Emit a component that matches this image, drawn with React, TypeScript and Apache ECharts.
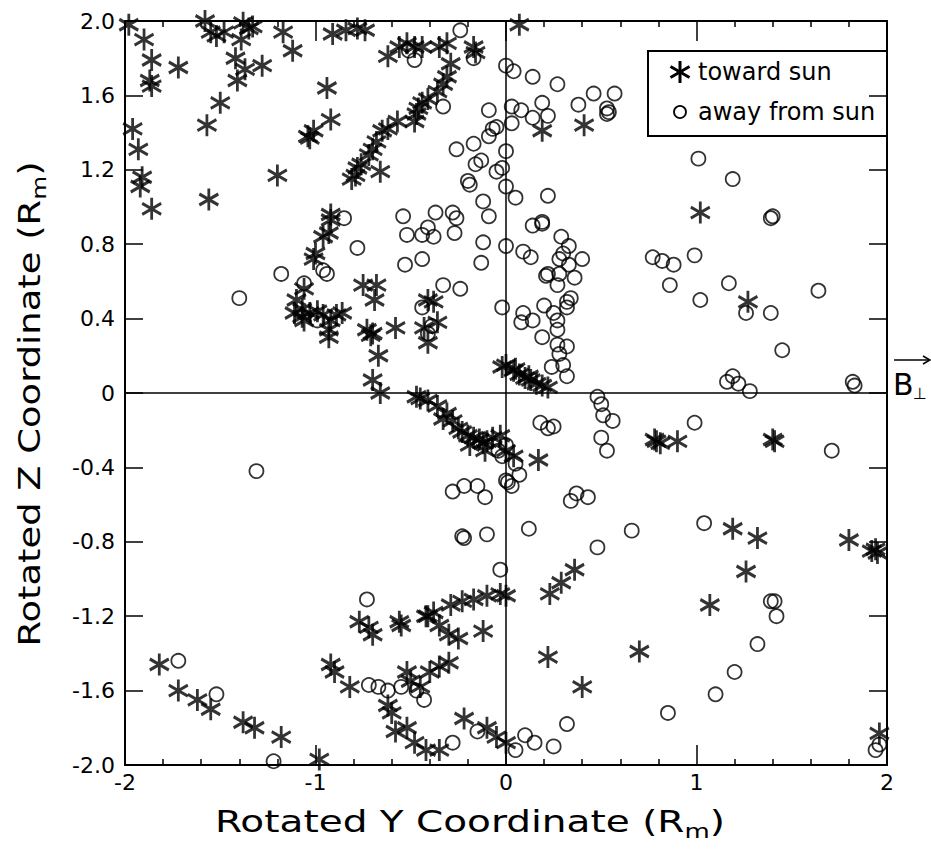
import React, { useEffect, useRef } from 'react';
import * as echarts from 'echarts';

// "toward sun" points (Rotated Y, Rotated Z) in Rm
const towardSun: number[][] = [
  [-1.98, 1.98], [-1.90, 1.90], [-1.86, 1.79], [-1.87, 1.68], [-1.86, 1.65], [-1.72, 1.75],
  [-1.96, 1.42], [-1.93, 1.31], [-1.91, 1.16], [-1.92, 1.11], [-1.86, 0.99], [-1.56, 1.04],
  [-1.57, 1.44], [-1.50, 1.56], [-1.20, 1.17], [-1.04, 1.38],
  [-1.58, 2.0], [-1.55, 1.94], [-1.52, 1.92], [-1.48, 1.94], [-1.38, 1.99], [-1.35, 1.96],
  [-1.33, 1.97], [-1.39, 1.90], [-1.42, 1.80], [-1.37, 1.74], [-1.28, 1.76], [-1.41, 1.68],
  [-1.17, 1.94], [-1.12, 1.84],
  [-0.91, 1.93], [-0.84, 1.95], [-0.78, 1.96], [-0.74, 1.95], [-0.94, 1.64], [-0.92, 1.47],
  [-1.01, 1.41], [-1.03, 1.37], [-0.62, 1.81], [-0.56, 1.86], [-0.52, 1.88], [-0.48, 1.86],
  [-0.44, 1.86], [-0.35, 1.86], [-0.31, 1.88], [-0.17, 1.86], [-0.16, 1.83], [-0.29, 1.77],
  [-0.31, 1.70], [-0.33, 1.66], [-0.36, 1.62], [-0.41, 1.58], [-0.44, 1.56], [-0.46, 1.53],
  [-0.47, 1.50], [-0.48, 1.46], [-0.57, 1.46], [-0.62, 1.42], [-0.65, 1.41], [-0.68, 1.35],
  [-0.70, 1.31], [-0.72, 1.28], [-0.76, 1.23], [-0.78, 1.21], [-0.79, 1.17], [-0.81, 1.15],
  [-0.66, 1.19], [-0.92, 0.96],
  [0.07, 1.98], [0.19, 1.41], [0.41, 1.44], [1.02, 0.97],
  [-0.92, 0.93], [-0.93, 0.86], [-0.96, 0.84], [-1.0, 0.75], [-1.01, 0.72], [-1.06, 0.56],
  [-1.07, 0.45], [-1.03, 0.43], [-0.99, 0.44], [-0.96, 0.42], [-0.92, 0.39], [-0.89, 0.42],
  [-0.86, 0.43], [-0.93, 0.34], [-0.93, 0.30], [-1.06, 0.39], [-0.75, 0.58], [-0.68, 0.58],
  [-0.69, 0.50], [-0.73, 0.34], [-0.70, 0.32], [-0.71, 0.31], [-0.58, 0.35], [-0.67, 0.20],
  [-0.70, 0.07], [-0.66, 0.0], [-0.41, 0.50], [-0.38, 0.49], [-0.36, 0.38], [-0.43, 0.35],
  [-0.41, 0.27], [-0.02, 0.14],
  [-1.10, 0.50], [-1.11, 0.43], [-1.07, 0.41],
  [-0.47, -0.02], [-0.45, -0.03], [-0.41, -0.04], [-0.36, -0.07], [-0.31, -0.11], [-0.28, -0.15],
  [-0.33, -0.14], [-0.23, -0.21], [-0.17, -0.24], [-0.14, -0.25], [-0.10, -0.26], [-0.07, -0.24],
  [-0.03, -0.23], [-0.19, -0.28], [-0.11, -0.31], [-0.25, -0.19], [-0.20, -0.23], [-0.12, -0.27],
  [0.0, 0.15], [0.04, 0.12], [0.07, 0.10], [0.10, 0.08], [0.13, 0.07], [0.16, 0.05],
  [0.19, 0.04], [0.22, 0.03], [0.05, 0.13], [0.12, 0.09],
  [1.27, 0.49],
  [-0.03, -1.08], [-0.10, -1.09], [-0.17, -1.11], [-0.23, -1.12], [-0.29, -1.14], [-0.38, -1.18],
  [-0.41, -1.20], [-0.56, -1.23], [-0.77, -1.23],
  [0.0, -0.31], [0.04, -0.34], [0.17, -0.36], [0.79, -0.26], [0.81, -0.27], [0.90, -0.26],
  [0.78, -0.25], [0.36, -0.95], [0.29, -1.02], [0.23, -1.08], [0.0, -1.09], [1.07, -1.14],
  [1.41, -0.26], [1.40, -0.25], [1.80, -0.79], [1.92, -0.85], [1.95, -0.86], [1.94, -0.84],
  [1.19, -0.73], [1.32, -0.78], [1.26, -0.96],
  [-1.82, -1.46], [-1.72, -1.60], [-1.62, -1.65], [-1.55, -1.70], [-1.38, -1.77], [-1.32, -1.80],
  [-1.18, -1.85], [-0.98, -1.97],
  [-0.92, -1.46], [-0.90, -1.50], [-0.82, -1.58], [-0.72, -1.26], [-0.70, -1.30], [-0.55, -1.25],
  [-0.42, -1.20], [-0.35, -1.25], [-0.30, -1.30], [-0.25, -1.32], [-0.12, -1.28], [-0.52, -1.50],
  [-0.50, -1.55], [-0.45, -1.58], [-0.40, -1.50], [-0.35, -1.47], [-0.30, -1.45], [-0.62, -1.68],
  [-0.60, -1.72], [-0.58, -1.82], [-0.52, -1.80], [-0.48, -1.88], [-0.42, -1.92], [-0.35, -1.92],
  [-0.22, -1.75], [-0.10, -1.80], [-0.05, -1.85], [0.0, -1.88], [0.22, -1.42], [0.40, -1.58],
  [0.70, -1.39], [1.96, -1.83],
];

// "away from sun" points
const awayFromSun: number[][] = [
  [-0.24, 1.95], [0.0, 1.76], [0.04, 1.73], [0.14, 1.70], [0.27, 1.66], [0.03, 1.54],
  [0.08, 1.52], [0.19, 1.56], [0.14, 1.48], [0.22, 1.49], [0.03, 1.45], [0.38, 1.55],
  [0.46, 1.61], [0.57, 1.61], [0.53, 1.53], [0.54, 1.51], [0.53, 1.50], [0.0, 1.30],
  [-0.02, 1.21], [0.0, 1.11], [0.05, 1.05], [0.22, 1.06], [0.19, 0.92], [1.01, 1.26],
  [-0.51, 1.84], [-0.48, 1.79], [-0.17, 1.80], [-0.33, 1.54], [-0.09, 1.52], [-0.07, 1.42],
  [-0.05, 1.43], [-0.26, 1.31], [-0.17, 1.34], [-0.09, 1.38], [-0.16, 1.23], [-0.13, 1.25],
  [-0.05, 1.19], [-0.20, 1.14], [-0.19, 1.12], [-0.12, 1.03],
  [-0.85, 0.94], [-0.54, 0.95], [-0.37, 0.97], [-0.28, 0.97], [-0.26, 0.94], [-0.09, 0.95],
  [-0.52, 0.85], [-0.44, 0.85], [-0.38, 0.84], [-0.41, 0.89], [-0.27, 0.86], [-0.12, 0.81],
  [0.0, 0.79], [-0.78, 0.78], [-0.53, 0.69], [-0.44, 0.72], [-0.13, 0.70], [-0.96, 0.66],
  [-0.94, 0.64], [-1.06, 0.59], [-0.33, 0.58], [-0.24, 0.56], [-0.02, 0.46], [-0.44, 0.46],
  [-0.39, 0.36], [-0.41, 0.32], [-0.99, 0.39],
  [0.14, 0.90], [0.19, 0.91], [0.09, 0.76], [0.13, 0.73], [0.29, 0.84], [0.33, 0.79],
  [0.30, 0.75], [0.28, 0.72], [0.40, 0.72], [0.33, 0.69], [0.22, 0.64], [0.21, 0.63],
  [0.28, 0.64], [0.36, 0.62], [0.27, 0.58], [0.34, 0.51], [0.32, 0.49], [0.32, 0.46],
  [0.20, 0.47], [0.25, 0.43], [0.27, 0.39], [0.27, 0.34], [0.09, 0.43], [0.08, 0.38],
  [0.14, 0.39], [0.19, 0.30], [0.27, 0.26], [0.32, 0.25], [0.28, 0.21], [0.30, 0.15],
  [0.32, 0.09], [0.24, 0.14], [0.77, 0.73], [0.82, 0.71], [0.88, 0.69], [0.86, 0.58],
  [0.99, 0.74], [1.02, 0.50],
  [0.48, -0.02], [0.50, -0.06], [0.51, -0.12], [0.56, -0.15], [0.50, -0.24], [0.53, -0.31],
  [0.18, -0.16], [0.22, -0.19], [0.25, -0.18], [0.99, -0.16],
  [1.40, 0.95], [1.39, 0.94], [1.17, 0.59], [1.26, 0.43], [1.39, 0.43], [1.64, 0.55],
  [1.45, 0.23], [1.16, 0.06], [1.19, 0.09], [1.22, 0.05], [1.28, 0.01], [1.82, 0.06],
  [1.83, 0.04], [1.19, 1.15],
  [-1.31, -0.42], [-1.18, 0.64], [-1.40, 0.51],
  [-0.04, -0.31], [-0.02, -0.34], [0.0, -0.47], [-0.28, -0.53], [-0.22, -0.50], [-0.15, -0.50],
  [-0.11, -0.56], [-0.23, -0.77], [-0.22, -0.78], [-0.10, -0.76], [-0.03, -0.95], [-0.73, -1.11],
  [0.05, -0.38], [0.07, -0.44], [0.01, -0.48], [0.03, -0.50], [0.0, -0.28], [0.37, -0.54],
  [0.34, -0.58], [0.43, -0.56], [0.12, -0.73], [0.66, -0.74], [0.48, -0.83], [1.04, -0.70],
  [1.71, -0.31], [1.39, -1.12], [1.41, -1.12], [1.42, -1.20],
  [-1.72, -1.44], [-1.52, -1.62], [-1.22, -1.98],
  [-0.72, -1.57], [-0.67, -1.58], [-0.62, -1.60], [-0.55, -1.58], [-0.47, -1.60], [-0.43, -1.65],
  [-0.28, -1.88], [-0.15, -1.82], [0.05, -1.92], [0.10, -1.84], [0.15, -1.88], [0.25, -1.90],
  [0.32, -1.78], [0.85, -1.72], [1.10, -1.62], [1.20, -1.50], [1.32, -1.35], [1.94, -1.92],
  [1.96, -1.89],
];

const seriesNames = ['toward sun', 'away from sun'];
const xTitleParts = ['Rotated Y Coordinate (R', 'm', ')'];
const yTitleParts = ['Rotated Z Coordinate (R', 'm', ')'];

const STAR_PATH = 'path://M0,-10L0,10M-8.66,-5L8.66,5M-8.66,5L8.66,-5';
const FONT = 'DejaVu Sans';

export default function App() {
  const ref = useRef<HTMLDivElement>(null);

  useEffect(() => {
    if (!ref.current) return;
    const chart = echarts.init(ref.current, undefined, { renderer: 'svg' });

    const axisCommon = {
      type: 'value' as const,
      min: -2,
      max: 2,
      splitLine: { show: false },
      axisLine: { show: true, onZero: false, lineStyle: { color: '#000', width: 2 } },
    };

    const tickLabelStyle = { fontFamily: FONT, fontSize: 22, color: '#000' };

    const titleRich = {
      a: { fontFamily: FONT, fontSize: 30, fill: '#000', lineHeight: 38, verticalAlign: 'middle' },
      s: { fontFamily: FONT, fontSize: 20, fill: '#000', lineHeight: 38, verticalAlign: 'bottom', padding: [12, 0, 0, 0] },
    };

    chart.setOption({
      animation: false,
      backgroundColor: '#fff',
      grid: { left: 125, right: 44, top: 21, bottom: 88, containLabel: false },
      xAxis: [
        {
          ...axisCommon,
          position: 'bottom',
          interval: 1,
          axisTick: { show: true, inside: true, length: 20, lineStyle: { color: '#000', width: 1.5 } },
          minorTick: { show: true, splitNumber: 5, length: 6, lineStyle: { color: '#000', width: 1.5 } },
          axisLabel: { ...tickLabelStyle, margin: 6, formatter: (v: number) => String(Math.round(v)) },
        },
        {
          ...axisCommon,
          position: 'top',
          interval: 1,
          axisTick: { show: true, inside: true, length: 20, lineStyle: { color: '#000', width: 1.5 } },
          minorTick: { show: true, splitNumber: 5, length: 6, lineStyle: { color: '#000', width: 1.5 } },
          axisLabel: { show: false },
        },
      ],
      yAxis: [
        {
          ...axisCommon,
          position: 'left',
          interval: 0.4,
          axisTick: { show: true, inside: true, length: 18, lineStyle: { color: '#000', width: 1.5 } },
          axisLabel: {
            ...tickLabelStyle,
            margin: 10,
            formatter: (v: number) => (Math.abs(v) < 1e-9 ? '0' : v.toFixed(1)),
          },
        },
        {
          ...axisCommon,
          position: 'right',
          interval: 0.4,
          axisTick: { show: true, inside: true, length: 18, lineStyle: { color: '#000', width: 1.5 } },
          axisLabel: { show: false },
        },
      ],
      series: [
        {
          name: seriesNames[0],
          type: 'scatter',
          xAxisIndex: 0,
          yAxisIndex: 0,
          data: towardSun,
          symbol: STAR_PATH,
          symbolSize: [19, 22],
          itemStyle: { color: '#000', borderColor: '#000', borderWidth: 3 },
          z: 3,
        },
        {
          name: seriesNames[1],
          type: 'scatter',
          xAxisIndex: 0,
          yAxisIndex: 0,
          data: awayFromSun,
          symbol: 'circle',
          symbolSize: 14,
          itemStyle: { color: 'rgba(0,0,0,0)', borderColor: '#000', borderWidth: 1.8 },
          z: 3,
          markLine: {
            silent: true,
            symbol: 'none',
            label: { show: false },
            lineStyle: { color: '#000', width: 1.5, type: 'solid' },
            data: [{ xAxis: 0 }, { yAxis: 0 }],
          },
        },
      ],
      graphic: [
        // legend box
        {
          type: 'rect',
          shape: { x: 648, y: 51, width: 239, height: 85 },
          style: { fill: 'none', stroke: '#000', lineWidth: 2 },
          z: 10,
        },
        {
          type: 'group',
          x: 680,
          y: 72,
          z: 10,
          children: [
            { type: 'line', shape: { x1: 0, y1: -11, x2: 0, y2: 11 }, style: { stroke: '#000', lineWidth: 3 } },
            { type: 'line', shape: { x1: -9.5, y1: -5.5, x2: 9.5, y2: 5.5 }, style: { stroke: '#000', lineWidth: 3 } },
            { type: 'line', shape: { x1: -9.5, y1: 5.5, x2: 9.5, y2: -5.5 }, style: { stroke: '#000', lineWidth: 3 } },
          ],
        },
        {
          type: 'circle',
          shape: { cx: 680, cy: 112, r: 6 },
          style: { fill: 'none', stroke: '#000', lineWidth: 1.8 },
          z: 10,
        },
        {
          type: 'text',
          x: 698,
          y: 72,
          z: 10,
          style: { text: seriesNames[0], fontFamily: FONT, fontSize: 24, fill: '#000', verticalAlign: 'middle' },
        },
        {
          type: 'text',
          x: 698,
          y: 112,
          z: 10,
          style: { text: seriesNames[1], fontFamily: FONT, fontSize: 24, fill: '#000', verticalAlign: 'middle' },
        },
        // axis titles
        {
          type: 'text',
          x: 470,
          y: 822,
          scaleX: 1.3,
          z: 10,
          style: {
            text: `{a|${xTitleParts[0]}}{s|${xTitleParts[1]}}{a|${xTitleParts[2]}}`,
            align: 'center',
            verticalAlign: 'middle',
            rich: titleRich,
          },
        },
        {
          type: 'text',
          x: 30,
          y: 404,
          rotation: Math.PI / 2,
          scaleX: 1.23,
          z: 10,
          style: {
            text: `{a|${yTitleParts[0]}}{s|${yTitleParts[1]}}{a|${yTitleParts[2]}}`,
            align: 'center',
            verticalAlign: 'middle',
            rich: titleRich,
          },
        },
        // B-perp label with arrow
        {
          type: 'line',
          shape: { x1: 894, y1: 360, x2: 930, y2: 360 },
          style: { stroke: '#000', lineWidth: 1.5 },
          z: 10,
        },
        {
          type: 'polyline',
          shape: { points: [[923, 356], [930, 360], [923, 364]] },
          style: { stroke: '#000', lineWidth: 1.5, fill: 'none' },
          z: 10,
        },
        {
          type: 'text',
          x: 893,
          y: 384,
          z: 10,
          style: { text: 'B', fontFamily: FONT, fontSize: 30, fill: '#000', verticalAlign: 'middle' },
        },
        {
          type: 'text',
          x: 913,
          y: 393,
          z: 10,
          style: { text: '⊥', fontFamily: FONT, fontSize: 16, fill: '#000', verticalAlign: 'middle' },
        },
      ],
    });

    return () => chart.dispose();
  }, []);

  return <div ref={ref} style={{ width: 931, height: 853, position: 'absolute', left: 0, top: 0 }} />;
}
